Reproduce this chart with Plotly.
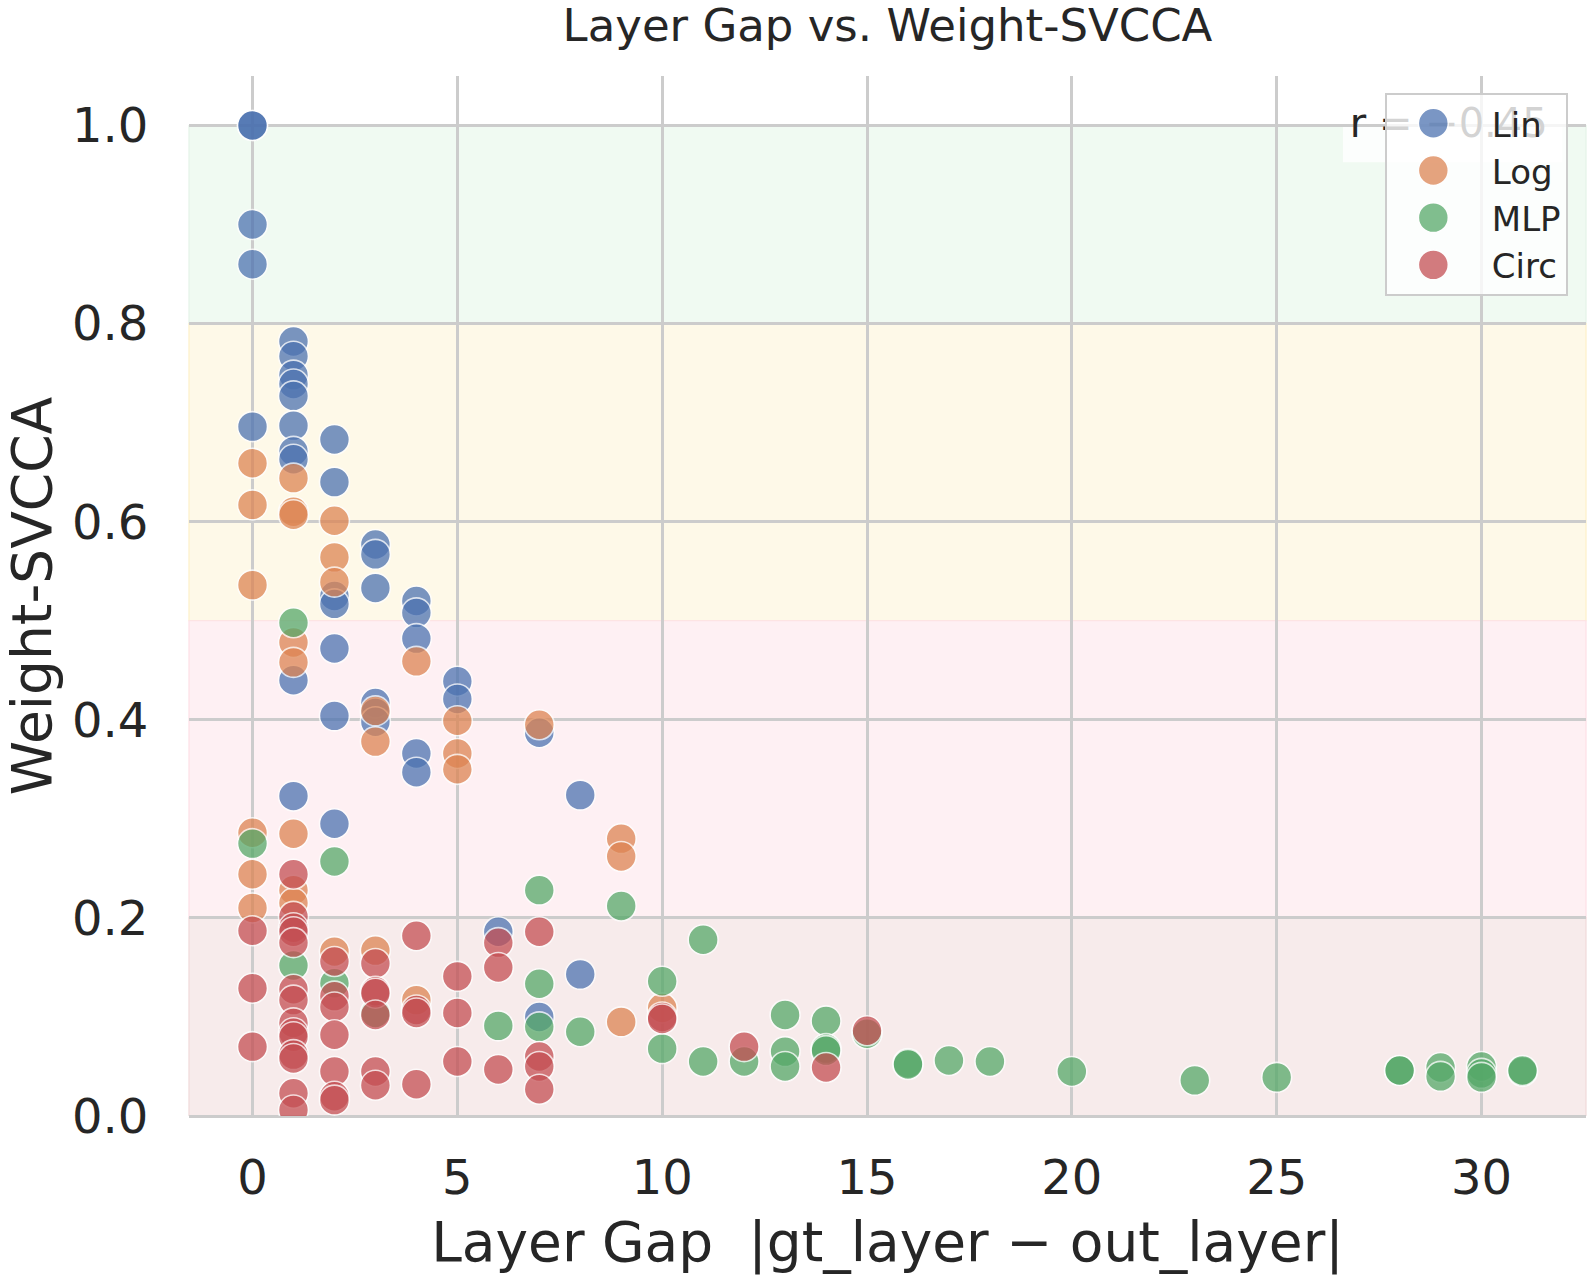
import plotly.graph_objects as go

# ---------------- data ----------------
lin_x = [0, 0, 0, 0, 0,
         1, 1, 1, 1, 1, 1, 1, 1, 1, 1,
         2, 2, 2, 2, 2, 2, 2,
         3, 3, 3, 3, 3, 3,
         4, 4, 4, 4, 4,
         5, 5, 6, 7, 7, 8, 8]
lin_y = [1.0, 1.0, 0.90, 0.86, 0.696,
         0.782, 0.767, 0.748, 0.739, 0.727, 0.697, 0.671, 0.663, 0.440, 0.323,
         0.683, 0.640, 0.525, 0.517, 0.472, 0.404, 0.295,
         0.577, 0.567, 0.533, 0.417, 0.407, 0.398,
         0.520, 0.508, 0.482, 0.366, 0.347,
         0.439, 0.421, 0.186, 0.387, 0.100, 0.324, 0.143]

log_x = [0, 0, 0, 0, 0, 0,
         1, 1, 1, 1, 1, 1, 1, 1,
         2, 2, 2, 2,
         3, 3, 3,
         4, 4,
         5, 5, 5, 7, 9, 9, 9, 10]
log_y = [0.659, 0.617, 0.536, 0.286, 0.244, 0.210,
         0.644, 0.610, 0.607, 0.478, 0.458, 0.285, 0.228, 0.215,
         0.601, 0.564, 0.539, 0.166,
         0.409, 0.378, 0.167,
         0.459, 0.117,
         0.399, 0.366, 0.350, 0.395, 0.280, 0.262, 0.095, 0.109]

mlp_x = [0, 1, 1, 2, 2, 3, 6, 7, 7, 7, 8, 9, 10, 10, 11, 11, 12,
         13, 13, 13, 14, 14, 14, 15, 16, 16, 17, 18, 20, 23, 25,
         28, 28, 29, 29, 30, 30, 30, 31, 31]
mlp_y = [0.275, 0.498, 0.152, 0.257, 0.134, 0.104, 0.091, 0.228, 0.1335, 0.090,
         0.085, 0.212, 0.136, 0.068, 0.178, 0.055, 0.055,
         0.102, 0.065, 0.050, 0.096, 0.068, 0.066, 0.083, 0.053, 0.052,
         0.056, 0.055, 0.045, 0.036, 0.039,
         0.046, 0.046, 0.049, 0.040, 0.050, 0.043, 0.039, 0.045, 0.046]

circ_x = [0, 0, 0,
          1, 1, 1, 1, 1, 1, 1, 1, 1, 1, 1, 1, 1, 1,
          2, 2, 2, 2, 2, 2, 2,
          3, 3, 3, 3, 3, 3,
          4, 4, 4, 4,
          5, 5, 5,
          6, 6, 6,
          7, 7, 7, 7,
          10, 10, 12, 14, 15]
circ_y = [0.187, 0.129, 0.070,
          0.244, 0.2015, 0.190, 0.186, 0.175, 0.128, 0.117, 0.094, 0.084, 0.080,
          0.062, 0.058, 0.023, 0.006,
          0.156, 0.121, 0.110, 0.082, 0.045, 0.020, 0.016,
          0.154, 0.126, 0.124, 0.102, 0.045, 0.031,
          0.182, 0.107, 0.104, 0.032,
          0.141, 0.104, 0.055,
          0.175, 0.150, 0.047,
          0.186, 0.060, 0.050, 0.027,
          0.100, 0.098, 0.070, 0.049, 0.086]

series_names = ["Lin", "Log", "MLP", "Circ"]
series_colors = ["#4C72B0", "#DD8452", "#55A868", "#C44E52"]

x_ticks = [0, 5, 10, 15, 20, 25, 30]
y_ticks = [0.0, 0.2, 0.4, 0.6, 0.8, 1.0]
y_tick_text = ["0.0", "0.2", "0.4", "0.6", "0.8", "1.0"]

band_edges = [(0.8, 1.0), (0.5, 0.8), (0.2, 0.5), (0.0, 0.2)]

r_text = "r = \u22120.45"

# ---------------- styling / layout ----------------
W, H = 1588, 1275
ml, mr, mt, mb = 189, 2, 76, 159
FONT = "DejaVu Sans"
TXT = "#262626"
band_fills = ["#f0faf2", "#fef9e8", "#fef0f3", "#f7ebeb"]
band_lines = ["#e4f4e8", "#fdf0c8", "#fde0e6", "#f1dada"]
r_pos = (29.2, 0.999)          # where the correlation label sits (data coords)
r_box = (0.826, 0.983, 0.917, 0.988)  # its backing box (paper coords)

fig = go.Figure()
for name, col, xs, ys in zip(series_names, series_colors,
                             [lin_x, log_x, mlp_x, circ_x],
                             [lin_y, log_y, mlp_y, circ_y]):
    fig.add_trace(go.Scatter(
        x=xs, y=ys, mode="markers", name=name,
        marker=dict(size=30, color=col, opacity=0.74,
                    line=dict(color="white", width=1.6)),
    ))

# correlation label (as a text trace so the legend sits on top of it)
fig.add_trace(go.Scatter(
    x=[r_pos[0]], y=[r_pos[1]], mode="text", text=[r_text], showlegend=False,
    hoverinfo="skip", cliponaxis=False,
    textfont=dict(family=FONT, size=40, color=TXT), textposition="middle center",
))

for (y0, y1), fill, edge in zip(band_edges, band_fills, band_lines):
    fig.add_shape(type="rect", xref="paper", yref="y", x0=0, x1=1, y0=y0, y1=y1,
                  fillcolor=fill, line=dict(color=edge, width=1.2), layer="below")

fig.add_shape(type="rect", xref="paper", yref="paper",
              x0=r_box[0], x1=r_box[1], y0=r_box[2], y1=r_box[3],
              fillcolor="rgba(255,255,255,0.8)", line=dict(width=0), layer="between")

fig.update_layout(
    width=W, height=H,
    margin=dict(l=ml, r=mr, t=mt, b=mb, pad=0),
    paper_bgcolor="white", plot_bgcolor="white",
    font=dict(family=FONT, color=TXT),
    title=dict(text="Layer Gap vs. Weight-SVCCA", x=(ml + (W - mr)) / 2 / W,
               xanchor="center", y=1 - 25 / H, yanchor="middle",
               font=dict(size=45, family=FONT, color=TXT)),
    showlegend=True,
    legend=dict(x=0.987, y=0.984, xanchor="right", yanchor="top",
                bgcolor="rgba(255,255,255,0.8)", bordercolor="#cccccc", borderwidth=2,
                font=dict(size=34, family=FONT, color=TXT), tracegroupgap=0,
                itemwidth=95),
    xaxis=dict(range=[-1.55, 32.55], tickvals=x_ticks, showgrid=True,
               gridcolor="#cccccc", gridwidth=2.5, zeroline=False, showline=False,
               ticks="outside", ticklen=19, tickcolor="rgba(0,0,0,0)",
               tickfont=dict(size=48, family=FONT, color=TXT),
               title=dict(text="Layer Gap  |gt_layer \u2212 out_layer|",
                          font=dict(size=55, family=FONT, color=TXT), standoff=22)),
    yaxis=dict(range=[0, 1.05], tickvals=y_ticks, ticktext=y_tick_text, showgrid=True,
               gridcolor="#cccccc", gridwidth=2.5, zeroline=True, zerolinecolor="#cccccc",
               zerolinewidth=3, showline=False,
               ticks="outside", ticklen=30, tickcolor="rgba(0,0,0,0)",
               tickfont=dict(size=48, family=FONT, color=TXT),
               title=dict(text="Weight-SVCCA",
                          font=dict(size=55, family=FONT, color=TXT), standoff=20)),
)

# enlarge the legend's marker glyphs to match the plotted marker size
post_js = """
var gd = document.getElementById('{plot_id}');
gd.querySelectorAll('.legend .legendpoints path.scatterpts').forEach(function(p){
  p.setAttribute('d', 'M9,0A15,15 0 1,1 -6,-15A15,15 0 0,1 9,0Z');
  p.style.strokeWidth = '1.6px';
});
"""

fig.write_html("out.html", post_script=post_js)
